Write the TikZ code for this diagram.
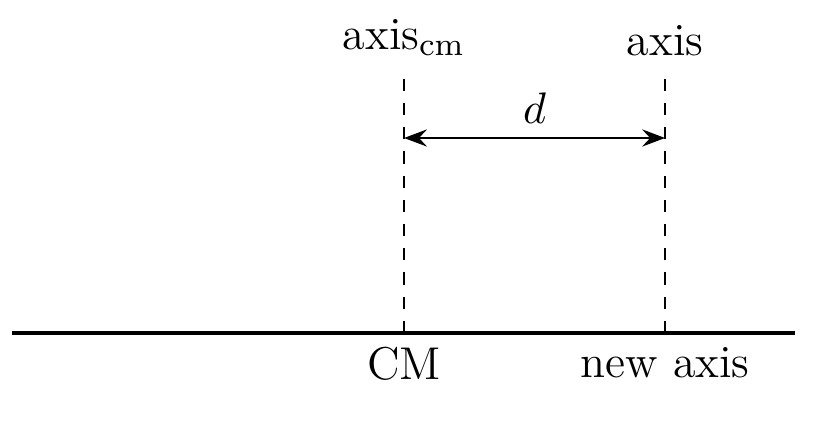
\documentclass[tikz,border=0pt]{standalone}
\usetikzlibrary{arrows.meta}
\begin{document}
\begin{tikzpicture}[font=\fontsize{11.4}{14}\selectfont,
    dtip/.tip={Stealth[length=2mm,width=1.5mm,inset=0.7mm]}]
\useasboundingbox (0,0) rectangle (7.2,3.748);

\draw[thick] (0.105,0.846) coordinate (l) -- (6.93,0.846) coordinate (r);

\foreach \n/\x/\top/\bot in {cm/3.522/{axis$_{\mathrm{cm}}$}/CM,ax/5.797/axis/{new axis}} {
    \coordinate (\n b) at (\x,0.846);
    \coordinate (\n t) at (\x,3.138);
    \draw[dashed] (\n b) -- (\n t);
    \node[above] (\n top) at (\n t) {\top};
    \node[below] (\n bot) at (\n b) {\bot};
}

\coordinate (dl) at (3.522,2.545);
\coordinate (dr) at (5.797,2.545);
\draw[dtip-dtip] (dl) -- node[above] (dlab) {$d$} (dr);
\end{tikzpicture}
\end{document}
